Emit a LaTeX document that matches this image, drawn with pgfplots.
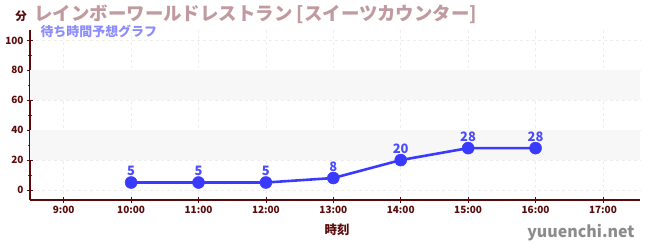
\documentclass[border=0pt]{standalone}
\usepackage{fontspec}
\setmainfont{Noto Sans CJK JP}
\usepackage{pgfplots}
\pgfplotsset{compat=1.18}
\definecolor{titlec}{HTML}{C09A9E}
\definecolor{subc}{HTML}{8C8CFF}
\definecolor{axc}{HTML}{5A0A0A}
\definecolor{linec}{HTML}{3A3AFF}
\definecolor{labc}{HTML}{4A4AFF}
\definecolor{bandc}{HTML}{F7F7F7}
\definecolor{gridc}{HTML}{EDEDED}
\begin{document}
\begin{tikzpicture}[x=1bp,y=1bp]
\path[use as bounding box] (0,0) rectangle (650,250);
\begin{axis}[
  at={(30bp,50bp)}, anchor=south west,
  scale only axis, width=610bp, height=170bp,
  xmin=8.5, xmax=17.55, ymin=-6.7, ymax=107,
  axis x line=bottom, axis y line=left,
  axis line style={axc, line width=1.2pt, -},
  xtick={9,...,17},
  xticklabels={9:00,10:00,11:00,12:00,13:00,14:00,15:00,16:00,17:00},
  ytick={0,20,...,100},
  minor ytick={10,30,50,70,90},
  tick align=center,
  major tick length=6bp, minor tick length=4bp,
  every tick/.style={axc, line width=0.8pt},
  minor tick style={red!80!black, line width=0.8pt},
  ticklabel style={font=\fontsize{10}{10}\selectfont\bfseries, text=axc},
  /pgf/number format/assume math mode=true,
  grid=major,
  major grid style={gridc, dashed, line width=0.6pt},
  clip=false,
  axis on top=false,
]
\fill[bandc] (axis cs:8.5,20) rectangle (axis cs:17.55,40);
\fill[bandc] (axis cs:8.5,60) rectangle (axis cs:17.55,80);
\addplot[linec, line width=2.6pt, mark=*, mark size=6bp, mark options={fill=linec, draw=linec, line width=0.5pt},
  nodes near coords, every node near coord/.append style={font=\fontsize{13}{13}\selectfont\bfseries, text=labc, yshift=3bp}]
coordinates {(10,5) (11,5) (12,5) (13,8) (14,20) (15,28) (16,28)};
\end{axis}
\node[anchor=west, text=titlec, font=\fontsize{18.5}{19}\selectfont\bfseries] at (31,236) {レインボーワールドレストラン [スイーツカウンター]};
\node[anchor=center, text=axc, font=\fontsize{11.5}{12}\selectfont\bfseries] at (21,234) {分};
\node[anchor=west, text=subc, font=\fontsize{13}{13}\selectfont\bfseries] at (37,219) {待ち時間予想グラフ};
\node[anchor=center, text=axc, font=\fontsize{12.5}{12}\selectfont\bfseries] at (337,20) {時刻};
\node[anchor=east, text=gray!90, font=\fontsize{16}{16}\selectfont\bfseries] at (638,17) {yuuenchi.net};
\end{tikzpicture}
\end{document}
